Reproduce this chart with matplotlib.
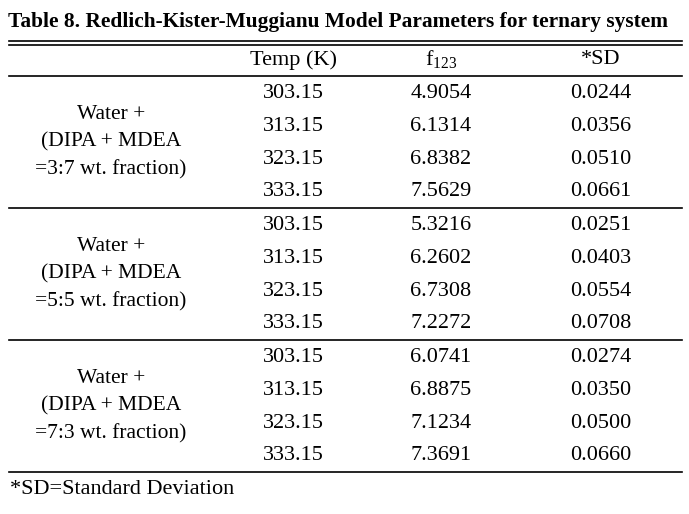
import matplotlib
matplotlib.use("Agg")
import matplotlib.pyplot as plt

title = "Table 8. Redlich-Kister-Muggianu Model Parameters for ternary system"
headers = ["Temp (K)", "f$_{123}$", "*SD"]
groups = ["Water +\n(DIPA + MDEA\n=3:7 wt. fraction)",
          "Water +\n(DIPA + MDEA\n=5:5 wt. fraction)",
          "Water +\n(DIPA + MDEA\n=7:3 wt. fraction)"]
temps = ["303.15", "313.15", "323.15", "333.15"]
f123 = [["4.9054", "6.1314", "6.8382", "7.5629"],
        ["5.3216", "6.2602", "6.7308", "7.2272"],
        ["6.0741", "6.8875", "7.1234", "7.3691"]]
sd = [["0.0244", "0.0356", "0.0510", "0.0661"],
      ["0.0251", "0.0403", "0.0554", "0.0708"],
      ["0.0274", "0.0350", "0.0500", "0.0660"]]
footnote = "*SD=Standard Deviation"

plt.rcParams['font.family'] = ['Liberation Serif', 'DejaVu Serif']
plt.rcParams['mathtext.fontset'] = 'custom'
plt.rcParams['mathtext.rm'] = 'Liberation Serif'

fig = plt.figure(figsize=(6.89, 5.14), dpi=100)
ax = fig.add_axes([0, 0, 1, 1])
ax.set_xlim(0, 689)
ax.set_ylim(514, 0)
ax.axis("off")

fs = 16
x_group, x_temp, x_f, x_sd = 111, 293, 441, 601
x0, x1 = 9, 682

ax.text(8, 22, title, fontsize=15.4, fontweight="bold", ha="left", va="center")
ax.plot([x0, x1], [41, 41], color="black", lw=1.2)
ax.plot([x0, x1], [45, 45], color="black", lw=1.2)

for x, h in zip([x_temp, x_f, x_sd], headers):
    ax.text(x, 60, h, fontsize=fs, ha="center", va="center")
ax.plot([x0, x1], [76, 76], color="black", lw=1.2)

row_h = 32.8
group_top = [76, 208, 340]
for g in range(3):
    top = group_top[g]
    for i in range(4):
        y = top + 17.5 + i * row_h
        ax.text(x_temp, y, temps[i], fontsize=fs, ha="center", va="center")
        ax.text(x_f, y, f123[g][i], fontsize=fs, ha="center", va="center")
        ax.text(x_sd, y, sd[g][i], fontsize=fs, ha="center", va="center")
    ax.text(x_group, top + 66, groups[g], fontsize=15.5, ha="center", va="center",
            linespacing=1.6)
    ax.plot([x0, x1], [top + 132, top + 132], color="black", lw=1.2)

ax.text(10, 490, footnote, fontsize=fs, ha="left", va="center")

fig.savefig("out.png", dpi=100)
